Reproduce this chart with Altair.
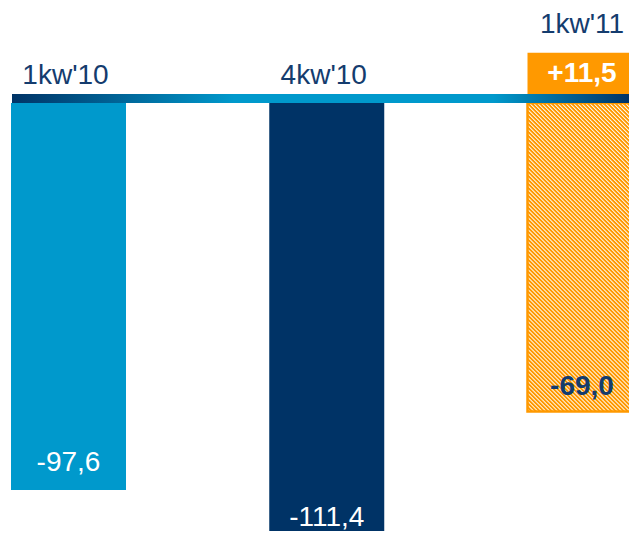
import altair as alt
import pandas as pd

# ---- data ----
categories = ["1kw'10", "4kw'10", "1kw'11"]
values = [-97.6, -111.4, -69.0]          # printed values
bar_extent = [-97.6, -111.4, -77.8]      # drawn length of each bar (picture)
change_extent = [0.0, 0.0, 12.7]         # orange box above the baseline (picture)
change_labels = ["", "", "+11,5"]
kinds = ["solid", "solid", "hatched"]
bar_colors = ["#0099CC", "#003366", "#FF9900"]

labels = [f"{v:.1f}".replace(".", ",") for v in values]

df = pd.DataFrame({
    "cat": categories,
    "value": values,
    "extent": bar_extent,
    "label": labels,
    "up": change_extent,
    "uplabel": change_labels,
    "kind": kinds,
    "color": bar_colors,
})

W, H = 621, 523
NAVY_TXT = "#143C6E"
FONT = "Liberation Sans"

x_enc = alt.X("cat:N", sort=categories, axis=None,
              scale=alt.Scale(range=[3, 634.5], paddingInner=0.5547, paddingOuter=0))
y_scale = alt.Scale(domain=[-107.94, 23.96], nice=False, zero=False)

base = alt.Chart(df).encode(x=x_enc)

solid = base.transform_filter(alt.datum.kind == "solid").mark_bar(clip=True).encode(
    y=alt.Y("extent:Q", scale=y_scale, axis=None),
    y2=alt.datum(0),
    fill=alt.Fill("color:N", scale=None),
)

# hatched fill via a striped gradient (diagonal stripes, "\" direction)
w_px, h_px = 115.0, 308.5
a = (w_px + h_px) / (w_px ** 2 + h_px ** 2)
n = 106
ORANGE, WHITE = "#FF9900", "#FFFFFF"
stops = []
for i in range(n):
    stops += [
        alt.GradientStop(offset=i / n, color=ORANGE),
        alt.GradientStop(offset=(i + 0.35) / n, color=ORANGE),
        alt.GradientStop(offset=(i + 0.65) / n, color=WHITE),
    ]
stops.append(alt.GradientStop(offset=1.0, color=ORANGE))
hatch = alt.LinearGradient(gradient="linear", stops=stops,
                           x1=0, y1=1, x2=a * w_px, y2=1 - a * h_px)

hatched = base.transform_filter(alt.datum.kind == "hatched").mark_bar(
    clip=True, fill=hatch, stroke=ORANGE, strokeWidth=2.5
).encode(
    y=alt.Y("extent:Q", scale=y_scale, axis=None),
    y2=alt.datum(0),
)

upbox = base.transform_filter(alt.datum.up > 0).mark_bar(
    clip=True, color=ORANGE
).encode(
    y=alt.Y("up:Q", scale=y_scale, axis=None),
    y2=alt.datum(0),
)

band_grad = alt.LinearGradient(
    gradient="linear",
    stops=[
        alt.GradientStop(offset=0.0, color="#003366"),
        alt.GradientStop(offset=0.36, color="#0099CC"),
        alt.GradientStop(offset=0.78, color="#0099CC"),
        alt.GradientStop(offset=1.0, color="#003366"),
    ],
    x1=0, y1=0, x2=1, y2=0,
)
baseline = alt.Chart(pd.DataFrame({"k": [0]})).mark_rect(fill=band_grad).encode(
    x=alt.value(4), x2=alt.value(W),
    y=alt.Y("k:Q", scale=y_scale, axis=None),
    y2=alt.datum(2.27),
)

cat_text = base.mark_text(
    font=FONT, fontSize=28, color=NAVY_TXT, baseline="alphabetic", dy=-19.5, dx=-3
).encode(
    y=alt.Y("up:Q", scale=y_scale, axis=None),
    text="cat:N",
)

up_text = base.transform_filter(alt.datum.up > 0).mark_text(
    font=FONT, fontSize=28, fontWeight="bold", color="white",
    baseline="alphabetic", dy=-21, dx=-3
).encode(
    y=alt.Y("k0:Q", scale=y_scale, axis=None),
    text="uplabel:N",
).transform_calculate(k0="0")

val_white = base.transform_filter(alt.datum.kind == "solid").mark_text(
    font=FONT, fontSize=28, color="white", baseline="alphabetic", dy=-19
).encode(
    y=alt.Y("extent:Q", scale=y_scale, axis=None),
    text="label:N",
)

val_bold = base.transform_filter(alt.datum.kind == "hatched").mark_text(
    font=FONT, fontSize=28, fontWeight="bold", color=NAVY_TXT,
    baseline="alphabetic", dy=-16.5, dx=-3
).encode(
    y=alt.Y("extent:Q", scale=y_scale, axis=None),
    text="label:N",
)

chart = alt.layer(
    solid, hatched, upbox, baseline, cat_text, up_text, val_white, val_bold
).properties(
    width=W, height=H, padding=0,
    autosize=alt.AutoSizeParams(type="none"),
).configure_view(stroke=None)

chart.save("out.html", embed_options={"renderer": "svg", "actions": False})
